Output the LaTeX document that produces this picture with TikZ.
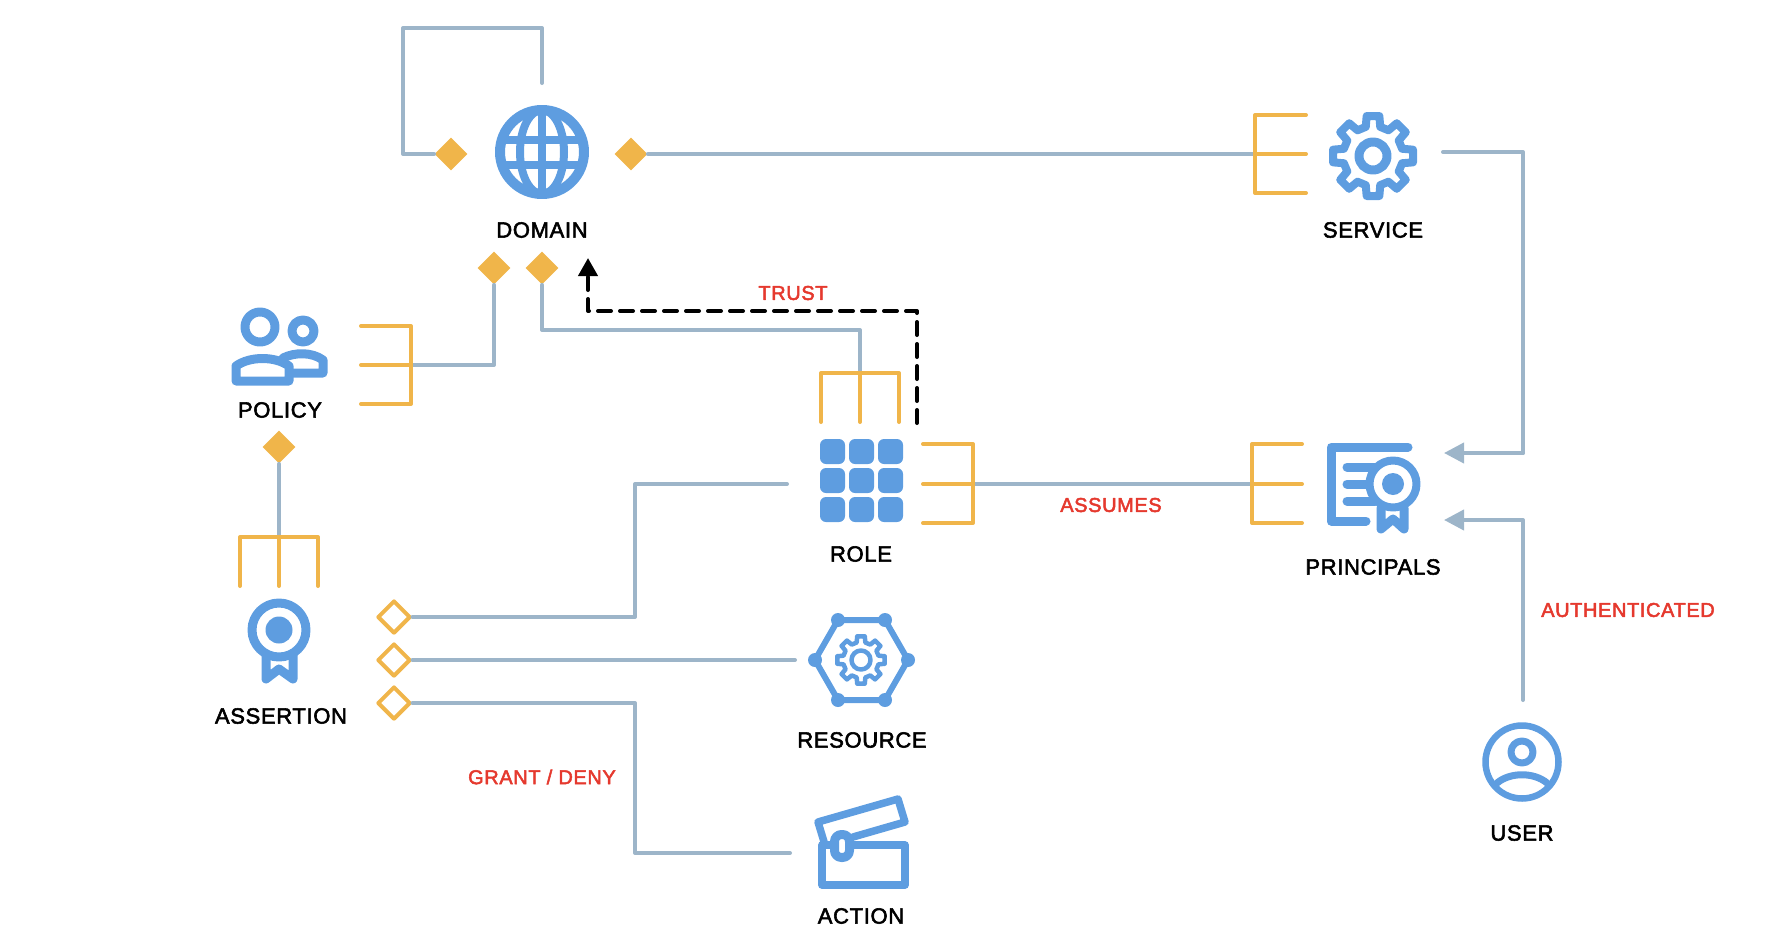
\documentclass[tikz,border=0pt]{standalone}
\usepackage{fontspec}
\newfontfamily\lblfont{Liberation Sans}[FakeBold=2.5,LetterSpace=3]
\usetikzlibrary{shapes.geometric,arrows.meta}
\definecolor{iconblue}{HTML}{5E9DE0}
\definecolor{linegray}{HTML}{9DB5C9}
\definecolor{forkyellow}{HTML}{F0B54A}
\definecolor{labelred}{HTML}{E5392E}
\tikzset{
	conn/.style={draw=linegray,line width=2pt,line cap=round},
	fork/.style={draw=forkyellow,line width=2pt,line cap=round,line join=round},
	icon/.style={draw=iconblue,line width=4.5pt,line cap=round,line join=round},
	solid diam/.style={diamond,fill=forkyellow,inner sep=0pt,minimum size=16.5pt},
	open diam/.style={diamond,draw=forkyellow,fill=white,line width=2pt,line join=round,inner sep=0pt,minimum size=16.5pt},
	iconlabel/.style={font=\lblfont\fontsize{11}{13}\selectfont,text=black,inner sep=0pt},
	rellabel/.style={font=\lblfont\fontsize{10}{12}\selectfont,text=labelred,inner sep=0pt},
}
% cog outline, 8 teeth
\newcommand{\cogpath}[2]{%
	(90-9:#1) \foreach \a in {90,135,...,405}{
		-- ({\a-9}:#1) -- ({\a+9}:#1) -- ({\a+14}:#2) -- ({\a+31}:#2)
	} -- cycle}
\begin{document}
\begin{tikzpicture}[x=0.5pt,y=-0.5pt,line join=round]
	\useasboundingbox (0,0) rectangle (1774,948);
	% connector ends
	\coordinate (domtop) at (542,83);
	\coordinate (domloop) at (403,28);
	\coordinate (svcfork) at (1255,154);
	\coordinate (svcout) at (1443,152);
	\coordinate (svcbend) at (1523,453);
	\coordinate (princA) at (1444,453);
	\coordinate (princB) at (1444,520);
	\coordinate (usertop) at (1523,700);
	\coordinate (polfork) at (411,365);
	\coordinate (rolefork) at (860,373);
	\coordinate (roleright) at (973,484);
	\coordinate (princfork) at (1252,484);
	\coordinate (roleleft) at (787,484);
	\coordinate (bend) at (635,617);
	\coordinate (resleft) at (795,660);
	\coordinate (actleft) at (790,853);
	\coordinate (assfork) at (279,537);
	\coordinate (rolebar) at (860,330);
	\coordinate (trustA) at (917,423);
	\coordinate (trustB) at (588,311);
	\coordinate (trustC) at (588,258);
	% connectors
	\node[solid diam] (domL) at (451,154) {};
	\node[solid diam] (domR) at (631,154) {};
	\node[solid diam] (domP) at (494,268) {};
	\node[solid diam] (domE) at (542,268) {};
	\node[solid diam] (polD) at (279,447) {};
	\node[open diam] (assA) at (394,617) {};
	\node[open diam] (assB) at (394,660) {};
	\node[open diam] (assC) at (394,703) {};
	\draw[conn] (domL.west) -| (domloop) -| (domtop);
	\draw[conn] (domR.east) -- (svcfork);
	\draw[conn] (svcout) -| (svcbend);
	\draw[conn,-{Triangle[length=10pt,width=10pt]}] (svcbend) -- (princA);
	\draw[conn,-{Triangle[length=10pt,width=10pt]}] (usertop) |- (princB);
	\draw[conn] (domP.south) |- (polfork);
	\draw[conn] (domE.south) |- (rolebar) -- (rolefork);
	\draw[conn] (polD.south) -- (assfork);
	\draw[conn] (roleright) -- (princfork);
	\draw[conn] (assA.east) -- (bend) |- (roleleft);
	\draw[conn] (assB.east) -- (resleft);
	\draw[conn] (assC.east) -| (bend |- actleft) -- (actleft);
	\draw[draw=black,line width=2pt,line cap=round,dash pattern=on 6.5pt off 4.5pt,-{Triangle[length=9pt,width=9.5pt]}]
		(trustA) |- (trustB) -- (trustC);
	% forks
	\draw[fork] (1306,115) -- (1255,115) -- (1255,193) -- (1306,193) (1255,154) -- (1306,154);
	\draw[fork] (361,326) -- (411,326) -- (411,404) -- (361,404) (411,365) -- (361,365);
	\draw[fork] (821,422) -- (821,373) -- (899,373) -- (899,422) (860,373) -- (860,422);
	\draw[fork] (923,444) -- (973,444) -- (973,523) -- (923,523) (973,484) -- (923,484);
	\draw[fork] (1302,444) -- (1252,444) -- (1252,523) -- (1302,523) (1252,484) -- (1302,484);
	\draw[fork] (240,586) -- (240,537) -- (318,537) -- (318,586) (279,537) -- (279,586);
	% domain icon
	\begin{scope}[shift={(542,152)}]
		\draw[icon,line width=5pt] (0,0) circle (42);
		\draw[icon,line width=4pt] (0,0) ellipse (22 and 42);
		\draw[icon,line width=4pt,line cap=butt] (0,-42) -- (0,42) (-42,-12.5) -- (42,-12.5) (-42,12.5) -- (42,12.5);
	\end{scope}
	% service icon
	\begin{scope}[shift={(1373,156)}]
		\draw[icon,line width=4pt] \cogpath{40.5}{30};
		\draw[icon] (0,0) circle (14);
	\end{scope}
	% policy icon
	\draw[icon] (260,327) circle (15);
	\draw[icon] (303,331) circle (11);
	\draw[icon] (283,358) .. controls (295,352) and (312,352) .. (323,360) -- (323,373) -- (292,373);
	\draw[icon] (236,381) -- (236,366) .. controls (250,356) and (275,356) .. (289,366) -- (289,381) -- cycle;
	% role icon
	\foreach \cx in {832.5,861.5,890.5}
		\foreach \cy in {451.5,480.5,509.5}
			\fill[iconblue,rounded corners=3pt] (\cx-12.5,\cy-12.5) rectangle (\cx+12.5,\cy+12.5);
	% principals icon
	\draw[icon] (1408,447) -- (1331,447) -- (1331,521) -- (1366,521);
	\draw[icon] (1347,467) -- (1378,467) (1347,484) -- (1367,484) (1347,501) -- (1375,501);
	\draw[icon] (1381,508) -- (1381,529) -- (1393,519) -- (1404,529) -- (1404,508);
	\draw[icon,fill=white,line width=4pt] (1393,484) circle (23.5);
	\fill[iconblue] (1393,484) circle (11);
	% assertion icon
	\draw[icon] (266,652) -- (266,679) -- (279,669) -- (293,679) -- (293,652);
	\draw[icon,fill=white] (279,630) circle (27);
	\fill[iconblue] (279,630) circle (13.5);
	% resource icon
	\draw[icon,line width=3pt] (815,660) -- (838,620) -- (885,620) -- (908,660) -- (885,700) -- (838,700) -- cycle;
	\foreach \hx/\hy in {815/660,838/620,885/620,908/660,885/700,838/700}
		\fill[iconblue] (\hx,\hy) circle (7);
	\begin{scope}[shift={(861,660)}]
		\draw[icon,line width=2.25pt] \cogpath{24}{18};
		\draw[icon,line width=2.25pt] (0,0) circle (9.5);
	\end{scope}
	% action icon
	\draw[icon,line width=3.75pt] (825,845) -- (818,822) -- (898,799) -- (905,822) -- (853,837);
	\draw[icon,line width=3.75pt] (822,845) rectangle (905,885);
	\draw[icon,fill=white,rounded corners=3.5pt] (834.5,834.5) rectangle (849.5,857.5);
	% user icon
	\draw[icon,line width=3.25pt] (1522,762) circle (36.5);
	\draw[icon,line width=3.5pt] (1522,752) circle (11);
	\draw[icon,line width=3.5pt] (1497,783) .. controls (1510,772) and (1534,772) .. (1547,783);
	% names
	\node[iconlabel] (domlabel) at (542,230) {DOMAIN};
	\node[iconlabel] (svclabel) at (1373,230) {SERVICE};
	\node[iconlabel] (pollabel) at (280,410) {POLICY};
	\node[iconlabel] (rolelabel) at (861,554) {ROLE};
	\node[iconlabel] (princlabel) at (1373,567) {PRINCIPALS};
	\node[iconlabel] (asslabel) at (281,716) {ASSERTION};
	\node[iconlabel] (reslabel) at (862,740) {RESOURCE};
	\node[iconlabel] (actlabel) at (861,916) {ACTION};
	\node[iconlabel] (userlabel) at (1522,833) {USER};
	\node[rellabel] (trustlabel) at (793,293) {TRUST};
	\node[rellabel] (assumeslabel) at (1111,505) {ASSUMES};
	\node[rellabel] (authlabel) at (1628,610) {AUTHENTICATED};
	\node[rellabel] (grantlabel) at (542,777) {GRANT / DENY};
\end{tikzpicture}
\end{document}
